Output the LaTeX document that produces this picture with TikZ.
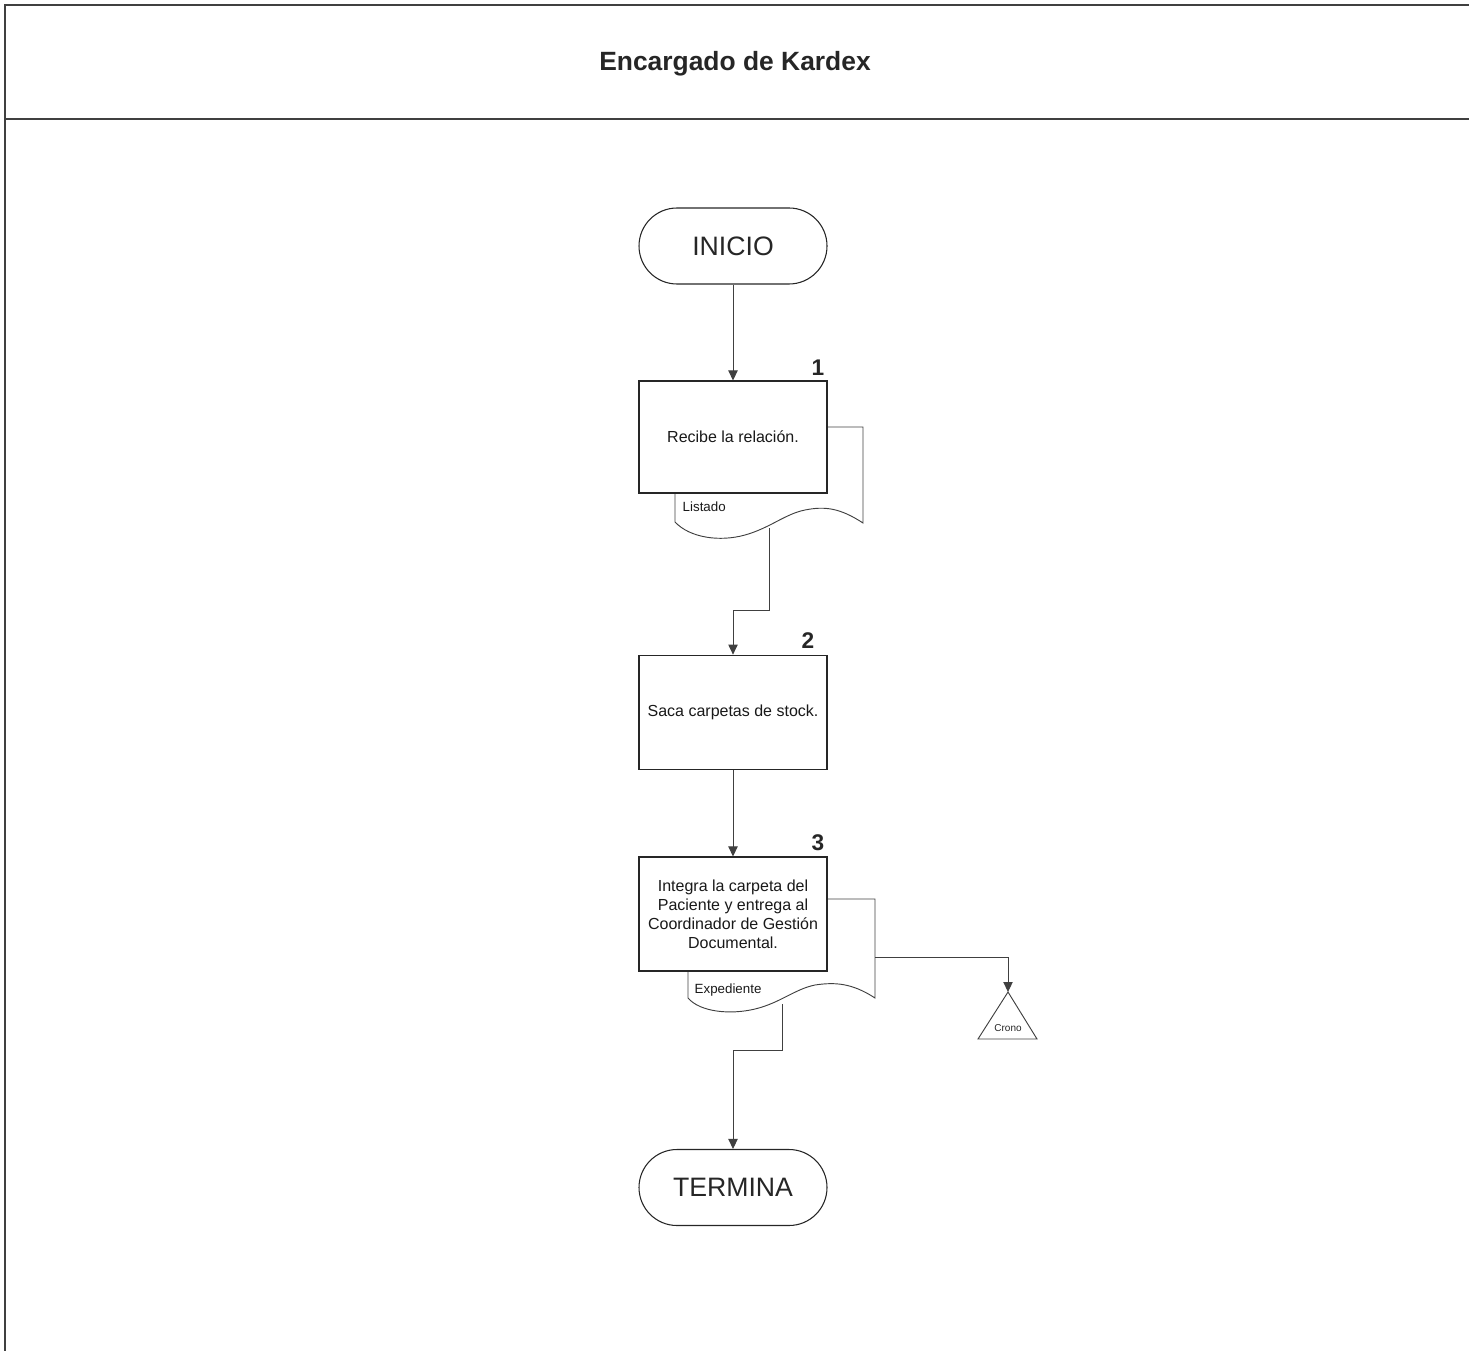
\documentclass[tikz,border=0pt]{standalone}
\usepackage{fontspec}
\setmainfont{Liberation Sans}
\usetikzlibrary{arrows.meta,shapes.misc}
\begin{document}
\begin{tikzpicture}[x=0.75pt,y=-0.75pt,
  line/.style={draw=black!75,line width=0.7pt},
  flow/.style={line,-{Triangle[width=7pt,length=7.5pt]}},
  term/.style={draw=black!85,line width=0.8pt,rounded rectangle,minimum width=141pt,minimum height=57pt,inner sep=0pt,font=\fontsize{20}{24}\selectfont,text=black!85},
  proc/.style={draw=black!85,line width=0.8pt,rectangle,minimum width=141pt,inner sep=2pt,fill=white,font=\fontsize{12}{14.3}\selectfont,text=black!90,align=center},
  num/.style={font=\bfseries\fontsize{17}{20}\selectfont,text=black!85},
  doclbl/.style={font=\fontsize{10}{11}\selectfont,text=black!90,anchor=west},
]
\useasboundingbox (0,0) rectangle (1469,1351);
% frame
\draw[line width=1.2pt,draw=black!75] (1469,5) -- (5,5) -- (5,1351);
\draw[line width=1.2pt,draw=black!75] (5,119) -- (1469,119);
\node[font=\bfseries\fontsize{19.8}{23}\selectfont,text=black!85] (title) at (735,64) {Encargado de Kardex};

% documents (behind boxes)
\draw[line] (827,427) -- (863,427) -- (863,523)
  .. controls (840,508) and (825,506) .. (805,510)
  .. controls (785,514) and (770,528) .. (745,535)
  .. controls (720,542) and (690,538) .. (675,522) -- (675,493);
\draw[line] (827,899) -- (875,899) -- (875,998)
  .. controls (852,983) and (835,982) .. (815,985)
  .. controls (795,989) and (780,1003) .. (755,1009)
  .. controls (730,1015) and (700,1012) .. (688,998) -- (688,971);

% nodes
\node[term] (inicio) at (733,246) {INICIO};
\node[proc,minimum height=84pt] (p1) at (733,437) {Recibe la relación.};
\node[num] (n1) at (818,368) {1};
\node[doclbl] (l1) at (678,507) {Listado};
\coordinate (d1out) at (769,528);

\node[proc,minimum height=86pt] (p2) at (733,712.5) {Saca carpetas de stock.};
\node[num] (n2) at (808,641) {2};

\node[proc,minimum height=85.5pt] (p3) at (733,914) {Integra la carpeta del\\Paciente y entrega al\\Coordinador de Gestión\\Documental.};
\node[num] (n3) at (818,843) {3};
\node[doclbl] (l3) at (690,990) {Expediente};
\coordinate (d3out) at (782,1004);
\coordinate (d3side) at (875,957);

\coordinate (cronotop) at (1008,992);
\draw[line] (cronotop) -- (978,1039) -- (1037,1039) -- cycle;
\node[font=\fontsize{7.5}{8}\selectfont,text=black!85] (crono) at (1008,1028) {Crono};

\node[term] (termina) at (733,1187.5) {TERMINA};

% connectors
\draw[flow] (inicio.south) -- (p1.north);
\draw[flow] (d1out) -- (769,610) -- (733,610) -- (p2.north);
\draw[flow] (p2.south) -- (p3.north);
\draw[flow] (d3side) -- (1008,957) -- (cronotop);
\draw[flow] (d3out) -- (782,1050) -- (733,1050) -- (termina.north);
\end{tikzpicture}
\end{document}
